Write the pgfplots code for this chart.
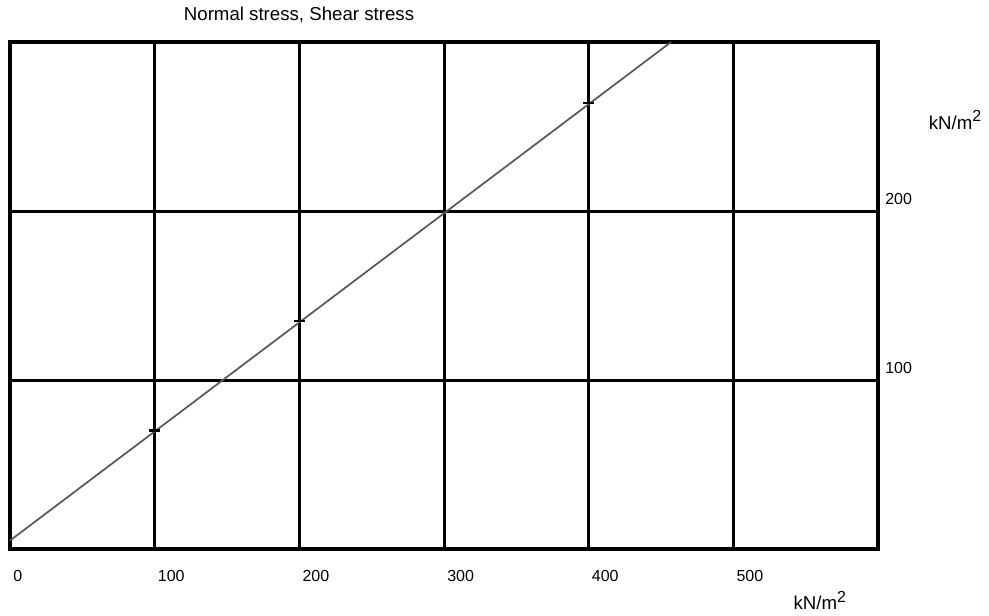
\documentclass[border=0pt]{standalone}
\usepackage{fontspec}
\setmainfont{Liberation Sans}
\usepackage{pgfplots}
\pgfplotsset{compat=1.18}
\begin{document}
\begin{tikzpicture}
\useasboundingbox (-7.5pt,-49.5pt) rectangle (734.25pt,411.75pt);
\begin{axis}[
  at={(0pt,0pt)}, anchor=south west,
  scale only axis, width=651pt, height=380.25pt,
  xmin=0, xmax=600, ymin=0, ymax=300,
  xtick={0,100,200,300,400,500}, ytick={100,200},
  grid=major, major grid style={black, line width=2.25pt},
  axis line style={line width=2.5pt},
  major tick length=0pt,
  yticklabel pos=right,
  tick label style={font=\fontsize{12}{14}\selectfont},
  /pgf/number format/assume math mode=true,
  xticklabel style={anchor=west, inner sep=0pt, xshift=2.25pt, yshift=-20.25pt},
  yticklabel style={anchor=south west, inner sep=0pt, xshift=5.25pt, yshift=4.5pt},
  clip mode=individual,
]
\addplot[color=black!65, line width=1.3pt] coordinates {(0,5) (457,300)};
\addplot[only marks, mark=-, mark size=4pt, mark options={line width=2pt, black}] coordinates {(100,70) (200,135) (400,264)};
\node[font=\fontsize{14}{16}\selectfont, inner sep=0pt] at (rel axis cs:0.333,1.053) {Normal stress, Shear stress};
\node[font=\fontsize{14}{16}\selectfont, inner sep=0pt] at (rel axis cs:1.0887,0.846) {kN/m\raisebox{0.75ex}{\fontsize{12}{12}\selectfont 2}};
\node[font=\fontsize{14}{16}\selectfont, inner sep=0pt] at (rel axis cs:0.933,-0.102) {kN/m\raisebox{0.75ex}{\fontsize{12}{12}\selectfont 2}};
\end{axis}
\end{tikzpicture}
\end{document}
